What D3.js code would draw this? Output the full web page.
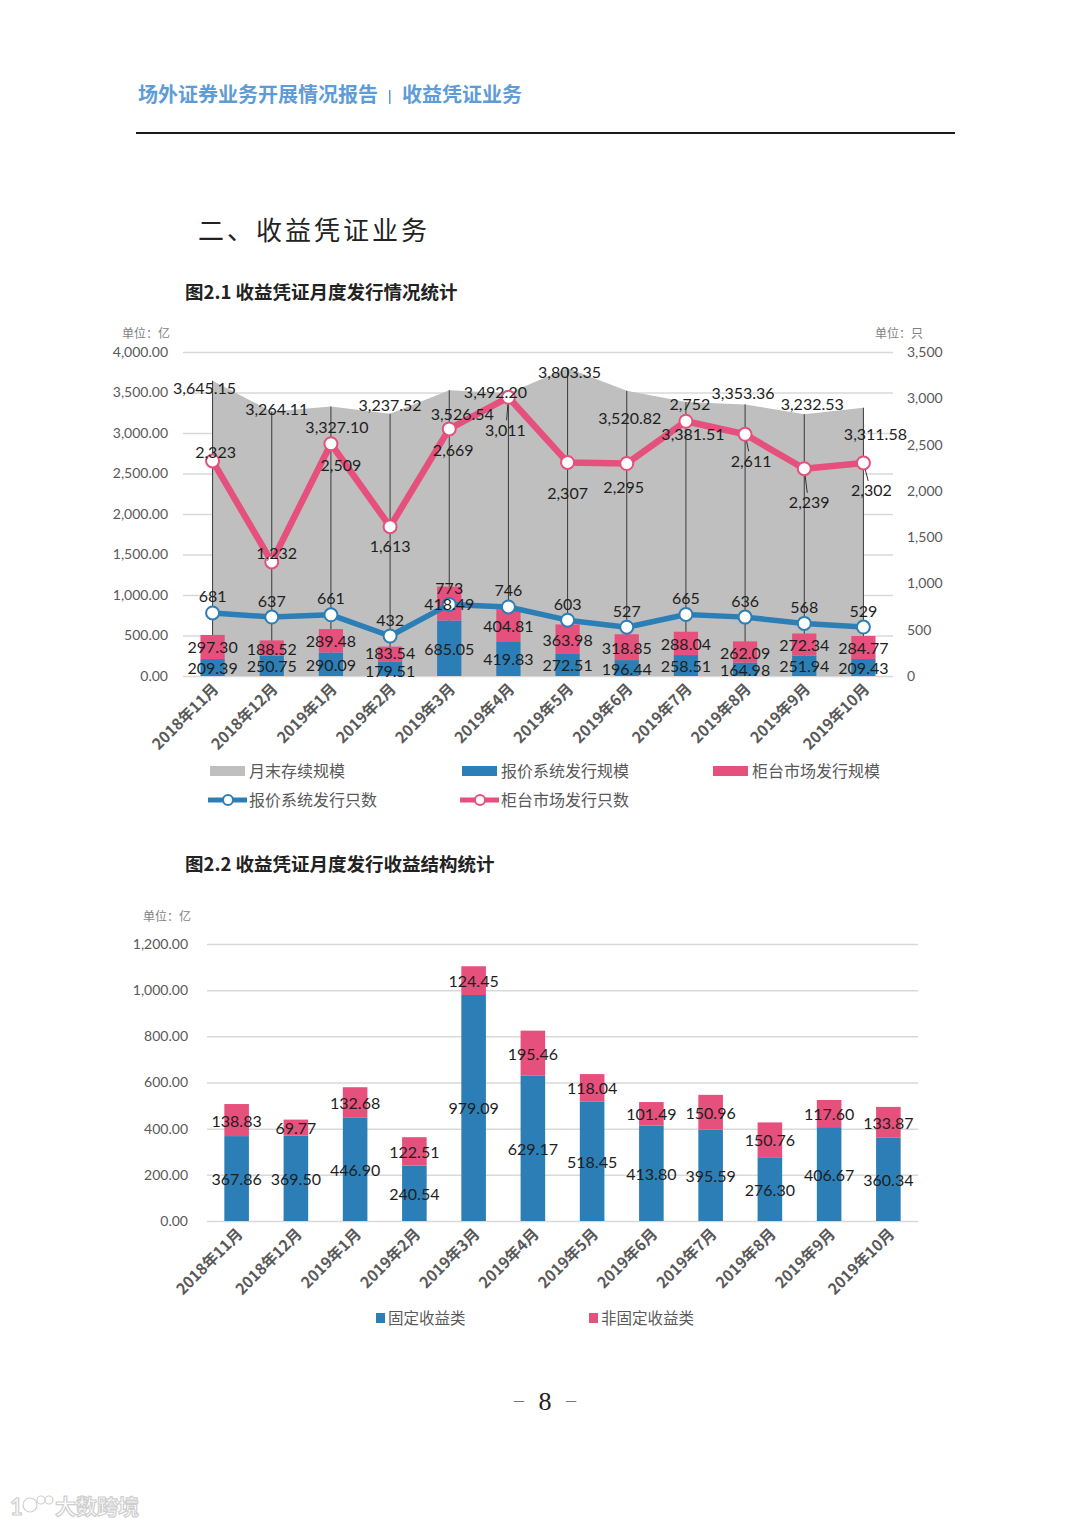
<!DOCTYPE html>
<html><head><meta charset="utf-8">
<script src="https://cdn.jsdelivr.net/npm/d3@7"></script>
<style>body{margin:0;background:#fff} svg{display:block}</style>
</head><body>
<svg id="page" width="1080" height="1527"></svg>
<script>
// ---------- data ----------
const months = ["2018年11月","2018年12月","2019年1月","2019年2月","2019年3月","2019年4月","2019年5月","2019年6月","2019年7月","2019年8月","2019年9月","2019年10月"];
const outstanding = [3645.15, 3264.11, 3327.10, 3237.52, 3526.54, 3492.20, 3803.35, 3520.82, 3381.51, 3353.36, 3232.53, 3311.58];
const quoteIssue = [209.39, 250.75, 290.09, 179.51, 685.05, 419.83, 272.51, 196.44, 258.51, 164.98, 251.94, 209.43];
const otcIssue = [297.30, 188.52, 289.48, 183.54, 418.49, 404.81, 363.98, 318.85, 288.04, 262.09, 272.34, 284.77];
const quoteCount = [681, 637, 661, 432, 773, 746, 603, 527, 665, 636, 568, 529];
const otcCount = [2323, 1232, 2509, 1613, 2669, 3011, 2307, 2295, 2752, 2611, 2239, 2302];
const fixedIncome = [367.86, 369.50, 446.90, 240.54, 979.09, 629.17, 518.45, 413.80, 395.59, 276.30, 406.67, 360.34];
const nonFixedIncome = [138.83, 69.77, 132.68, 122.51, 124.45, 195.46, 118.04, 101.49, 150.96, 150.76, 117.60, 133.87];
const leftTicks1 = [0, 500, 1000, 1500, 2000, 2500, 3000, 3500, 4000];
const rightTicks1 = [0, 500, 1000, 1500, 2000, 2500, 3000, 3500];
const ticks2 = [0, 200, 400, 600, 800, 1000, 1200];
const legend1 = ["月末存续规模","报价系统发行规模","柜台市场发行规模","报价系统发行只数","柜台市场发行只数"];
const legend2 = ["固定收益类","非固定收益类"];

// label placement tweaks (pixels, relative to the data point)
const outstandingLabelOffset = [[-8,7],[5,-3],[6,20],[0,-9],[13,23],[-13,-2],[2,4],[3,27],[7,31],[-2,-12],[8,-11],[12,26]];
const otcCountLabelOffset = [[3,-9],[5,-9],[10,21],[0,19],[4,21],[-3,32],[0,30],[-3,23],[4,-18],[6,26],[5,33],[8,27]];
const otcLeader = [5, 9, 10, 11];
const barLabelNudge = [0,0,0,2,0,0,0,0,0,0,0,0];

// ---------- styles ----------
const BLUE = "#2b7fb6", PINK = "#e6507c", GRAY = "#bfbfbf", GRID = "#d9d9d9";
const CJK = "'Noto Sans CJK SC', sans-serif";
const NUM = "Lato, 'Noto Sans', sans-serif";
const fmt2 = d3.format(",.2f"), fmt0 = d3.format(",");

const svg = d3.select("#page");

// ---------- page header ----------
svg.append("text").attr("x", 138).attr("y", 102).attr("font-family", CJK).attr("font-weight", 700)
  .attr("font-size", 20).attr("fill", "#5d9cd6").text("场外证券业务开展情况报告");
svg.append("rect").attr("x", 389).attr("y", 90).attr("width", 1.5).attr("height", 14).attr("fill", "#5d9cd6");
svg.append("text").attr("x", 402).attr("y", 102).attr("font-family", CJK).attr("font-weight", 700)
  .attr("font-size", 20).attr("fill", "#5d9cd6").text("收益凭证业务");
svg.append("line").attr("x1", 136).attr("x2", 955).attr("y1", 133).attr("y2", 133).attr("stroke", "#1a1a1a").attr("stroke-width", 2);

svg.append("text").attr("x", 198).attr("y", 240).attr("font-family", CJK).attr("font-size", 26)
  .attr("letter-spacing", 3).attr("fill", "#222").text("二、收益凭证业务");
svg.append("text").attr("x", 185).attr("y", 299).attr("font-family", CJK).attr("font-weight", 700).attr("font-size", 18.5)
  .attr("fill", "#222").text("图2.1 收益凭证月度发行情况统计");
svg.append("text").attr("x", 185).attr("y", 871).attr("font-family", CJK).attr("font-weight", 700).attr("font-size", 18.5)
  .attr("fill", "#222").text("图2.2 收益凭证月度发行收益结构统计");

// ---------- chart 1 ----------
const c1 = {left: 183, right: 893, top: 352, bottom: 676};
const x1 = d3.scaleBand().domain(months).range([c1.left, c1.right]);
const cx1 = m => x1(m) + x1.bandwidth() / 2;
const yL = d3.scaleLinear().domain([0, 4000]).range([c1.bottom, c1.top]);
const yR = d3.scaleLinear().domain([0, 3500]).range([c1.bottom, c1.top]);
const g1 = svg.append("g");

g1.append("text").attr("x", 122).attr("y", 338).attr("font-family", CJK).attr("font-size", 12).attr("fill", "#7f7f7f").text("单位：亿");
g1.append("text").attr("x", 875).attr("y", 338).attr("font-family", CJK).attr("font-size", 12).attr("fill", "#7f7f7f").text("单位：只");

const axL = g1.append("g").attr("transform", `translate(${c1.left},0)`)
  .call(d3.axisLeft(yL).tickValues(leftTicks1).tickFormat(fmt2).tickSize(-(c1.right - c1.left)).tickPadding(15));
axL.select(".domain").remove();
axL.selectAll("line").attr("stroke", GRID).attr("stroke-width", 1.5);
axL.selectAll("text").attr("font-family", NUM).attr("font-size", 14).attr("fill", "#595959");

const axR = g1.append("g").attr("transform", `translate(${c1.right},0)`)
  .call(d3.axisRight(yR).tickValues(rightTicks1).tickFormat(fmt0).tickSize(0).tickPadding(14));
axR.select(".domain").remove();
axR.selectAll("text").attr("font-family", NUM).attr("font-size", 14).attr("fill", "#595959");

// area
g1.append("path").datum(outstanding)
  .attr("d", d3.area().x((d, i) => cx1(months[i])).y0(yL(0)).y1(d => yL(d)))
  .attr("fill", GRAY);
// drop lines
g1.selectAll(".drop").data(outstanding).join("line")
  .attr("x1", (d, i) => cx1(months[i])).attr("x2", (d, i) => cx1(months[i]))
  .attr("y1", d => yL(d)).attr("y2", yL(0)).attr("stroke", "#3a3a3a").attr("stroke-width", 1);

// stacked bars
const bw1 = x1.step() * 0.41;
g1.selectAll(".bq").data(quoteIssue).join("rect")
  .attr("x", (d, i) => cx1(months[i]) - bw1 / 2).attr("width", bw1)
  .attr("y", d => yL(d)).attr("height", d => yL(0) - yL(d)).attr("fill", BLUE);
g1.selectAll(".bo").data(otcIssue).join("rect")
  .attr("x", (d, i) => cx1(months[i]) - bw1 / 2).attr("width", bw1)
  .attr("y", (d, i) => yL(d + quoteIssue[i])).attr("height", d => yL(0) - yL(d)).attr("fill", PINK);

// lines
const lineR = d3.line().x((d, i) => cx1(months[i])).y(d => yR(d));
g1.append("path").datum(quoteCount).attr("d", lineR).attr("fill", "none").attr("stroke", BLUE).attr("stroke-width", 5.5).attr("stroke-linejoin", "round");
g1.append("path").datum(otcCount).attr("d", lineR).attr("fill", "none").attr("stroke", PINK).attr("stroke-width", 6.5).attr("stroke-linejoin", "round");

// leader lines for some pink labels
g1.selectAll(".lead").data(otcLeader).join("line")
  .attr("x1", i => cx1(months[i])).attr("y1", i => yR(otcCount[i]))
  .attr("x2", i => cx1(months[i]) + otcCountLabelOffset[i][0] * 0.6)
  .attr("y2", i => yR(otcCount[i]) + otcCountLabelOffset[i][1] - 9)
  .attr("stroke", "#333").attr("stroke-width", 1);

g1.selectAll(".mq").data(quoteCount).join("circle")
  .attr("cx", (d, i) => cx1(months[i])).attr("cy", d => yR(d)).attr("r", 6.5)
  .attr("fill", "#fff").attr("stroke", BLUE).attr("stroke-width", 2);
g1.selectAll(".mo").data(otcCount).join("circle")
  .attr("cx", (d, i) => cx1(months[i])).attr("cy", d => yR(d)).attr("r", 6.5)
  .attr("fill", "#fff").attr("stroke", PINK).attr("stroke-width", 2);

// labels
const lab = (sel) => sel.attr("font-family", NUM).attr("font-size", 16).attr("fill", "#1e1e1e")
  .attr("text-anchor", "middle").attr("dominant-baseline", "central");
lab(g1.selectAll(".lq").data(quoteIssue).join("text")
  .attr("x", (d, i) => cx1(months[i])).attr("y", (d, i) => yL(d / 2) + barLabelNudge[i]).text(fmt2));
lab(g1.selectAll(".lo").data(otcIssue).join("text")
  .attr("x", (d, i) => cx1(months[i])).attr("y", (d, i) => yL(quoteIssue[i] + d / 2) - barLabelNudge[i]).text(fmt2));
lab(g1.selectAll(".lqc").data(quoteCount).join("text")
  .attr("x", (d, i) => cx1(months[i])).attr("y", d => yR(d) - 17).text(fmt0));
lab(g1.selectAll(".loc").data(otcCount).join("text")
  .attr("x", (d, i) => cx1(months[i]) + otcCountLabelOffset[i][0])
  .attr("y", (d, i) => yR(d) + otcCountLabelOffset[i][1]).text(fmt0));
lab(g1.selectAll(".los").data(outstanding).join("text")
  .attr("x", (d, i) => cx1(months[i]) + outstandingLabelOffset[i][0])
  .attr("y", (d, i) => yL(d) + outstandingLabelOffset[i][1]).text(fmt2));

// x labels
g1.selectAll(".xl").data(months).join("text")
  .attr("transform", m => `translate(${cx1(m) + 7},${c1.bottom + 14}) rotate(-45)`)
  .attr("text-anchor", "end").attr("font-family", CJK).attr("font-weight", 700).attr("font-size", 15.5)
  .attr("fill", "#595959").text(m => m);

// legend 1
const lg1 = g1.append("g").attr("font-family", CJK).attr("font-size", 16).attr("fill", "#595959");
[[210, GRAY, 0], [462, BLUE, 1], [713, PINK, 2]].forEach(([x, c, k]) => {
  lg1.append("rect").attr("x", x).attr("y", 766).attr("width", 35).attr("height", 10).attr("fill", c);
  lg1.append("text").attr("x", x + 39).attr("y", 777).text(legend1[k]);
});
[[208, BLUE, 3], [460, PINK, 4]].forEach(([x, c, k]) => {
  lg1.append("line").attr("x1", x).attr("x2", x + 39).attr("y1", 800).attr("y2", 800).attr("stroke", c).attr("stroke-width", 5);
  lg1.append("circle").attr("cx", x + 20).attr("cy", 800).attr("r", 5).attr("fill", "#fff").attr("stroke", c).attr("stroke-width", 2);
  lg1.append("text").attr("x", x + 41).attr("y", 806).text(legend1[k]);
});

// ---------- chart 2 ----------
const c2 = {left: 207, right: 918, top: 944, bottom: 1221};
const x2 = d3.scaleBand().domain(months).range([c2.left, c2.right]);
const cx2 = m => x2(m) + x2.bandwidth() / 2;
const y2 = d3.scaleLinear().domain([0, 1200]).range([c2.bottom, c2.top]);
const g2 = svg.append("g");
g2.append("text").attr("x", 143).attr("y", 921).attr("font-family", CJK).attr("font-size", 12).attr("fill", "#7f7f7f").text("单位：亿");

const ax2 = g2.append("g").attr("transform", `translate(${c2.left},0)`)
  .call(d3.axisLeft(y2).tickValues(ticks2).tickFormat(fmt2).tickSize(-(c2.right - c2.left)).tickPadding(19));
ax2.select(".domain").remove();
ax2.selectAll("line").attr("stroke", GRID).attr("stroke-width", 1.5);
ax2.selectAll("text").attr("font-family", NUM).attr("font-size", 14).attr("fill", "#595959");

const bw2 = x2.step() * 0.415;
g2.selectAll(".bf").data(fixedIncome).join("rect")
  .attr("x", (d, i) => cx2(months[i]) - bw2 / 2).attr("width", bw2)
  .attr("y", d => y2(d)).attr("height", d => y2(0) - y2(d)).attr("fill", BLUE);
g2.selectAll(".bn").data(nonFixedIncome).join("rect")
  .attr("x", (d, i) => cx2(months[i]) - bw2 / 2).attr("width", bw2)
  .attr("y", (d, i) => y2(d + fixedIncome[i])).attr("height", d => y2(0) - y2(d)).attr("fill", PINK);
lab(g2.selectAll(".lf").data(fixedIncome).join("text")
  .attr("x", (d, i) => cx2(months[i])).attr("y", d => y2(d / 2)).text(fmt2));
lab(g2.selectAll(".ln").data(nonFixedIncome).join("text")
  .attr("x", (d, i) => cx2(months[i])).attr("y", (d, i) => y2(fixedIncome[i] + d / 2)).text(fmt2));

g2.selectAll(".xl2").data(months).join("text")
  .attr("transform", m => `translate(${cx2(m) + 7},${c2.bottom + 14}) rotate(-45)`)
  .attr("text-anchor", "end").attr("font-family", CJK).attr("font-weight", 700).attr("font-size", 15.5)
  .attr("fill", "#595959").text(m => m);

const lg2 = g2.append("g").attr("font-family", CJK).attr("font-size", 15.5).attr("fill", "#595959");
[[376, BLUE, 0], [589, PINK, 1]].forEach(([x, c, k]) => {
  lg2.append("rect").attr("x", x).attr("y", 1313).attr("width", 9).attr("height", 10).attr("fill", c);
  lg2.append("text").attr("x", x + 12).attr("y", 1324).text(legend2[k]);
});

// ---------- footer ----------
svg.append("text").attr("x", 545).attr("y", 1410).attr("text-anchor", "middle").attr("font-family", "'Liberation Serif', serif")
  .attr("font-size", 26).attr("fill", "#222").text("8");
svg.append("text").attr("x", 519).attr("y", 1407).attr("text-anchor", "middle").attr("font-family", "'Liberation Serif', serif")
  .attr("font-size", 20).attr("fill", "#777").text("–");
svg.append("text").attr("x", 571).attr("y", 1407).attr("text-anchor", "middle").attr("font-family", "'Liberation Serif', serif")
  .attr("font-size", 20).attr("fill", "#777").text("–");

// watermark
const wm = svg.append("g").attr("fill", "#fff").attr("stroke", "#cfcfcf").attr("stroke-width", 1.2);
wm.append("text").attr("x", 10).attr("y", 1515).attr("font-family", NUM).attr("font-weight", 700).attr("font-size", 22).text("1");
wm.append("circle").attr("cx", 30).attr("cy", 1505).attr("r", 7);
wm.append("circle").attr("cx", 41).attr("cy", 1500).attr("r", 4);
wm.append("circle").attr("cx", 49).attr("cy", 1500).attr("r", 4);
wm.append("text").attr("x", 55).attr("y", 1514).attr("font-family", CJK).attr("font-weight", 700).attr("font-size", 21).text("大数跨境");
</script>
</body></html>
